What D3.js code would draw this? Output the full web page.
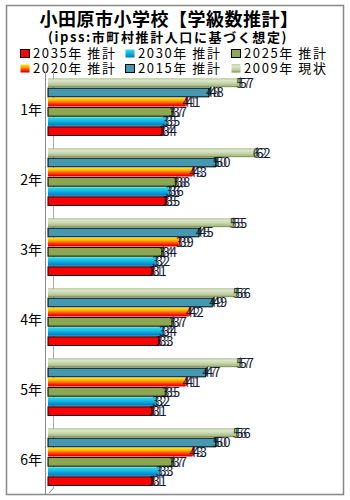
<!DOCTYPE html>
<html>
<head>
<meta charset="utf-8">
<script src="https://cdn.jsdelivr.net/npm/d3@7/dist/d3.min.js"></script>
<style>
  html, body { margin: 0; padding: 0; background: #fff; }
  svg { display: block; }
  text { font-family: "Noto Sans CJK JP", "Noto Sans", sans-serif; }
</style>
</head>
<body>
<svg id="chart" width="350" height="500"></svg>
<script>
// 学年
const grades = ["1年", "2年", "3年", "4年", "5年", "6年"];

// 系列（上から順に描画）
const seriesKeys = ["2009", "2015", "2020", "2025", "2030", "2035"];
const seriesNames = {
  "2035": "2035年 推計",
  "2030": "2030年 推計",
  "2025": "2025年 推計",
  "2020": "2020年 推計",
  "2015": "2015年 推計",
  "2009": "2009年 現状"
};

// 学級数
const v2009 = [57, 62, 55, 56, 57, 56];
const v2015 = [48, 50, 45, 49, 47, 50];
const v2020 = [41, 43, 39, 42, 41, 43];
const v2025 = [37, 38, 34, 37, 35, 37];
const v2030 = [35, 36, 32, 34, 32, 33];
const v2035 = [34, 35, 31, 33, 31, 31];

const values = { "2009": v2009, "2015": v2015, "2020": v2020, "2025": v2025, "2030": v2030, "2035": v2035 };

// 凡例の並び
const legendRows = [["2035", "2030", "2025"], ["2020", "2015", "2009"]];

const svg = d3.select("#chart");
const defs = svg.append("defs");

function vGrad(id, stops) {
  const g = defs.append("linearGradient").attr("id", id)
    .attr("x1", 0).attr("y1", 0).attr("x2", 0).attr("y2", 1);
  stops.forEach(([o, c]) => g.append("stop").attr("offset", o).attr("stop-color", c));
}
vGrad("g2009", [[0, "#8fa868"], [0.15, "#dfe8cc"], [0.5, "#cbd8b2"], [0.8, "#aebf8c"], [1, "#6f8c3e"]]);
vGrad("g2020", [[0, "#ffe800"], [0.3, "#ffb000"], [0.6, "#ff5000"], [0.85, "#ff0000"], [1, "#c00000"]]);
vGrad("g2030", [[0, "#30e0e0"], [0.35, "#18c0e0"], [0.7, "#0898d8"], [1, "#0070c0"]]);

const style = {
  "2009": { fill: "url(#g2009)", stroke: "none", cap: "#5d7a30" },
  "2015": { fill: "#4498b0", stroke: "#000", cap: "#1d4a58" },
  "2020": { fill: "url(#g2020)", stroke: "none", cap: "#b01000" },
  "2025": { fill: "#8ca651", stroke: "#000", cap: "#3e4e22" },
  "2030": { fill: "url(#g2030)", stroke: "none", cap: "#0870b0" },
  "2035": { fill: "#ff0000", stroke: "#000", cap: "#700000" }
};

// 外枠
svg.append("rect").attr("x", 6.5).attr("y", 5.5).attr("width", 337).attr("height", 489)
  .attr("fill", "#fff").attr("stroke", "#888").attr("stroke-width", 1.5);

// タイトル
svg.append("text").attr("x", 169).attr("y", 26).attr("text-anchor", "middle")
  .attr("font-size", 18).attr("font-weight", "bold").attr("letter-spacing", 0.5).attr("fill", "#000")
  .text("小田原市小学校【学級数推計】");
svg.append("text").attr("x", 168).attr("y", 42).attr("text-anchor", "middle")
  .attr("font-size", 13).attr("font-weight", "bold").attr("letter-spacing", 1.6).attr("fill", "#000")
  .text("(ipss:市町村推計人口に基づく想定)");

// 凡例
const legendX = [20, 125, 231];
const legendY = [49, 64];
legendRows.forEach((row, ri) => {
  row.forEach((k, ci) => {
    const g = svg.append("g").attr("transform", `translate(${legendX[ci]},${legendY[ri]})`);
    g.append("rect").attr("x", 0.5).attr("y", 0.5).attr("width", 9).attr("height", 8)
      .attr("fill", style[k].fill).attr("stroke", style[k].stroke === "none" ? "none" : "#000");
    g.append("text").attr("x", 13).attr("y", 8.5).attr("font-size", 13)
      .attr("letter-spacing", 1.6).attr("fill", "#000").text(seriesNames[k]);
  });
});

// スケール
const x = d3.scaleLinear().domain([0, 88]).range([48, 343]);
const y = d3.scaleBand().domain(grades).range([72, 492]);
const yInner = d3.scaleBand().domain(seriesKeys).range([6, 64]);

// 軸線・奥の壁
svg.append("line").attr("x1", 45.5).attr("x2", 45.5).attr("y1", 72).attr("y2", 494)
  .attr("stroke", "#888").attr("stroke-width", 1);
svg.append("line").attr("x1", 53.5).attr("x2", 53.5).attr("y1", 72).attr("y2", 488)
  .attr("stroke", "#aaa").attr("stroke-width", 1);
svg.append("line").attr("x1", 49).attr("x2", 53.5).attr("y1", 493).attr("y2", 488)
  .attr("stroke", "#888").attr("stroke-width", 1);

// 学年ラベル
svg.append("g").selectAll("text").data(grades).join("text")
  .attr("x", 42).attr("y", d => y(d) + y.bandwidth() / 2 + 3)
  .attr("dy", "0.35em").attr("text-anchor", "end")
  .attr("font-size", 14).attr("fill", "#000").text(d => d);

// 棒
const groups = svg.append("g").selectAll("g").data(grades).join("g")
  .attr("transform", d => `translate(0,${y(d)})`);

seriesKeys.forEach(k => {
  const bh = yInner.bandwidth();
  groups.append("rect")
    .attr("x", x(0))
    .attr("y", () => yInner(k) + 0.5)
    .attr("width", (d, i) => x(values[k][i]) - x(0))
    .attr("height", bh - 1)
    .attr("fill", style[k].fill)
    .attr("stroke", style[k].stroke)
    .attr("stroke-width", 1);
  // 立体の端面
  groups.append("path")
    .attr("d", (d, i) => {
      const xe = x(values[k][i]);
      const y0 = yInner(k) + 0.5, y1 = yInner(k) + bh - 0.5;
      return `M${xe},${y1} L${xe},${y0} L${xe + 2},${y0 - 1.5} L${xe + 2},${y1 - 1.5} Z`;
    })
    .attr("fill", style[k].cap);
});

// 値ラベル（前面と奥の二重描画で立体的に見せる）
seriesKeys.forEach(k => {
  const bh = yInner.bandwidth();
  groups.append("text")
    .attr("x", (d, i) => x(values[k][i]) - 3)
    .attr("y", yInner(k) + bh / 2)
    .attr("dy", "0.36em").attr("font-size", 13).attr("fill", "#000").attr("opacity", 0.7)
    .text((d, i) => values[k][i]);
  groups.append("text")
    .attr("x", (d, i) => x(values[k][i]) + 0.5)
    .attr("y", yInner(k) + bh / 2)
    .attr("dy", "0.36em").attr("font-size", 13).attr("fill", "#141838")
    .text((d, i) => values[k][i]);
});
</script>
</body>
</html>
